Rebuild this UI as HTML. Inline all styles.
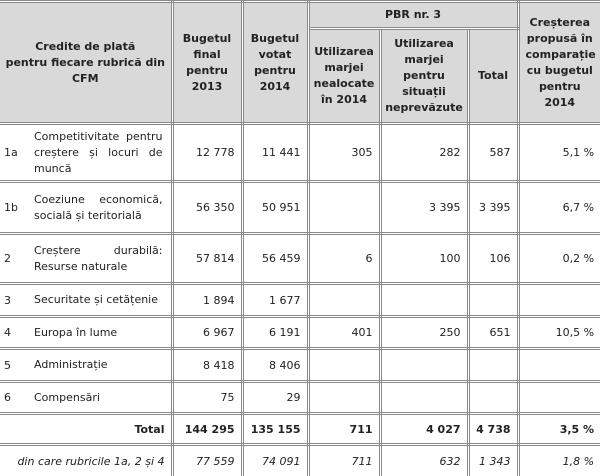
<!DOCTYPE html>
<html><head><meta charset="utf-8"><style>
html,body{margin:0;padding:0;background:#fff;width:600px;height:476px;overflow:hidden}
table{border-collapse:collapse;table-layout:fixed;width:600px;font-family:"DejaVu Sans","Liberation Sans",sans-serif;font-size:11px;color:#222}
td{border:3px double #8a8a8a;padding:0 6px;overflow:hidden}
table{border-left:none;border-right:none}
tr td:first-child{border-left:none}
tr td:last-child{border-right:none}
.h td{background:#d9d9d9;font-weight:bold;text-align:center;line-height:16px;padding:0 2px}
.r{text-align:right}
.n{border-right:none;padding:0 0 0 4px}
.t{border-left:none;text-align:justify;line-height:16px;padding:0 8px 0 6px}
.b td{font-weight:bold}
.i td{font-style:italic}
</style></head><body>
<table>
<colgroup><col style="width:28px"><col style="width:144px"><col style="width:70px"><col style="width:66px"><col style="width:72px"><col style="width:88px"><col style="width:50px"><col style="width:82px"></colgroup>
<tr class="h" style="height:27px"><td colspan="2" rowspan="2">Credite de plată<br>pentru fiecare rubrică din<br>CFM</td><td rowspan="2">Bugetul final pentru 2013</td><td rowspan="2">Bugetul votat pentru 2014</td><td colspan="3">PBR nr. 3</td><td rowspan="2" style="padding:0 6px">Creșterea propusă în comparație cu bugetul pentru<br>2014</td></tr>
<tr class="h" style="height:95px"><td>Utilizarea marjei nealocate în 2014</td><td>Utilizarea marjei pentru situații neprevăzute</td><td>Total</td></tr>
<tr style="height:58px"><td class="n">1a</td><td class="t">Competitivitate pentru creștere și locuri de muncă</td><td class="r">12 778</td><td class="r">11 441</td><td class="r">305</td><td class="r">282</td><td class="r">587</td><td class="r">5,1 %</td></tr>
<tr style="height:52px"><td class="n">1b</td><td class="t">Coeziune economică, socială și teritorială</td><td class="r">56 350</td><td class="r">50 951</td><td></td><td class="r">3 395</td><td class="r">3 395</td><td class="r">6,7 %</td></tr>
<tr style="height:50px"><td class="n">2</td><td class="t">Creștere durabilă: Resurse naturale</td><td class="r">57 814</td><td class="r">56 459</td><td class="r">6</td><td class="r">100</td><td class="r">106</td><td class="r">0,2 %</td></tr>
<tr style="height:33px"><td class="n">3</td><td class="t">Securitate și cetățenie</td><td class="r">1 894</td><td class="r">1 677</td><td></td><td></td><td></td><td></td></tr>
<tr style="height:32px"><td class="n">4</td><td class="t">Europa în lume</td><td class="r">6 967</td><td class="r">6 191</td><td class="r">401</td><td class="r">250</td><td class="r">651</td><td class="r">10,5 %</td></tr>
<tr style="height:33px"><td class="n">5</td><td class="t">Administrație</td><td class="r">8 418</td><td class="r">8 406</td><td></td><td></td><td></td><td></td></tr>
<tr style="height:32px"><td class="n">6</td><td class="t">Compensări</td><td class="r">75</td><td class="r">29</td><td></td><td></td><td></td><td></td></tr>
<tr class="b" style="height:31px"><td colspan="2" class="r">Total</td><td class="r">144 295</td><td class="r">135 155</td><td class="r">711</td><td class="r">4 027</td><td class="r">4 738</td><td class="r">3,5 %</td></tr>
<tr class="i" style="height:33px"><td colspan="2" class="r">din care rubricile 1a, 2 și 4</td><td class="r">77 559</td><td class="r">74 091</td><td class="r">711</td><td class="r">632</td><td class="r">1 343</td><td class="r">1,8 %</td></tr>
</table>
</body></html>
